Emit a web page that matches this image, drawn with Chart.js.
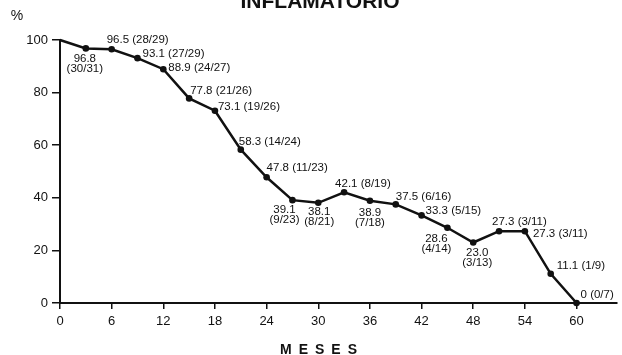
<!DOCTYPE html>
<html>
<head>
<meta charset="utf-8">
<script src="https://cdn.jsdelivr.net/npm/chart.js@4"></script>
<style>
    body { margin: 0; background: #fff; }
    #wrap { width: 622px; height: 355px; }
</style>
</head>
<body>
<div id="wrap"><canvas id="chart"></canvas></div>
<script>
"use strict";

// Survival curve data (months, % survival, survivors / at risk):
var months = [0, 3, 6, 9, 12, 15, 18, 21, 24, 27, 30, 33, 36, 39, 42, 45, 48, 51, 54, 57, 60];
var survival = [100, 96.8, 96.5, 93.1, 88.9, 77.8, 73.1, 58.3, 47.8, 39.1, 38.1, 42.1, 38.9, 37.5, 33.3, 28.6, 23.0, 27.3, 27.3, 11.1, 0];
var alive = [null, 30, 28, 27, 24, 21, 19, 14, 11, 9, 8, 8, 7, 6, 5, 4, 3, 3, 3, 1, 0];
var atRisk = [null, 31, 29, 29, 27, 26, 26, 24, 23, 23, 21, 19, 18, 16, 15, 14, 13, 11, 11, 9, 7];
var xTicks = [0, 6, 12, 18, 24, 30, 36, 42, 48, 54, 60];
var yTicks = [0, 20, 40, 60, 80, 100];

// Where each point label sits relative to its dot: [mode, dx, dy]
// 'r' = one line to the right, 'b' = two lines centered below
var labelPlacement = [
    null,
    ['b', -1, 10], ['r', -5, -9], ['r', 5, -4], ['r', 5, -1], ['r', 1, -8],
    ['r', 3, -4], ['r', -2, -8], ['r', 0, -9], ['b', -8, 10], ['b', 1, 9],
    ['r', -9, -8], ['b', 0, 12], ['r', 0, -8], ['r', 4, -5], ['b', -11, 11],
    ['b', 4, 10], ['r', -7, -9], ['r', 8, 3], ['r', 6, -8], ['r', 4, -8]
];

var fontFamily = '"Liberation Sans", Arial, sans-serif';

var points = months.map(function (m, i) {
    return { x: m, y: survival[i] };
});

var formatValue = function (v) {
    return v === 0 ? '0' : v.toFixed(1);
};

// Draws the value labels next to the dots, plus title and axis captions
var annotations = {
    id: 'annotations',
    afterDatasetsDraw: function (chart) {
        var ctx = chart.ctx;
        var meta = chart.getDatasetMeta(0);
        ctx.save();
        ctx.fillStyle = '#111';
        ctx.font = '11.5px ' + fontFamily;
        ctx.textBaseline = 'middle';
        meta.data.forEach(function (pt, i) {
            var place = labelPlacement[i];
            if (!place) return;
            var val = formatValue(survival[i]);
            var frac = '(' + alive[i] + '/' + atRisk[i] + ')';
            if (place[0] === 'b') {
                ctx.textAlign = 'center';
                ctx.fillText(val, pt.x + place[1], pt.y + place[2]);
                ctx.fillText(frac, pt.x + place[1], pt.y + place[2] + 10);
            } else {
                ctx.textAlign = 'left';
                ctx.fillText(val + ' ' + frac, pt.x + place[1], pt.y + place[2]);
            }
        });

        ctx.textBaseline = 'alphabetic';
        ctx.textAlign = 'center';
        ctx.font = 'bold 21px ' + fontFamily;
        ctx.fillText('INFLAMATORIO', 320, 8);

        ctx.font = '14px ' + fontFamily;
        ctx.fillText('%', 17, 20);

        ctx.font = 'bold 14px ' + fontFamily;
        ctx.letterSpacing = '7px';
        ctx.textAlign = 'left';
        ctx.fillText('MESES', 280, 354);
        ctx.restore();
    }
};

new Chart(document.getElementById('chart'), {
    type: 'line',
    data: {
        datasets: [{
            data: points,
            borderColor: '#111',
            borderWidth: 2.5,
            backgroundColor: '#111',
            pointRadius: function (c) { return c.dataIndex === 0 ? 0 : 3.3; },
            pointBorderWidth: 0,
            tension: 0,
            clip: false
        }]
    },
    options: {
        responsive: true,
        maintainAspectRatio: false,
        animation: false,
        layout: { padding: { top: 40, right: 5, left: 0, bottom: 0 } },
        plugins: {
            legend: { display: false },
            tooltip: { enabled: false }
        },
        scales: {
            x: {
                type: 'linear',
                min: 0,
                max: 64.7,
                afterBuildTicks: function (scale) {
                    scale.ticks = xTicks.map(function (v) { return { value: v }; });
                },
                afterFit: function (scale) { scale.height = 52; },
                grid: { drawOnChartArea: false, drawTicks: true, tickLength: 6, color: '#111', lineWidth: 1.5 },
                border: { color: '#111', width: 2 },
                ticks: { color: '#111', padding: 5, maxRotation: 0, font: { family: fontFamily, size: 13 } }
            },
            y: {
                min: 0,
                max: 100,
                afterBuildTicks: function (scale) {
                    scale.ticks = yTicks.map(function (v) { return { value: v }; });
                },
                afterFit: function (scale) { scale.width = 60; },
                grid: { drawOnChartArea: false, drawTicks: true, tickLength: 8, color: '#111', lineWidth: 1.5 },
                border: { color: '#111', width: 2 },
                ticks: { color: '#111', padding: 4, font: { family: fontFamily, size: 13 } }
            }
        }
    },
    plugins: [annotations]
});
</script>
</body>
</html>
